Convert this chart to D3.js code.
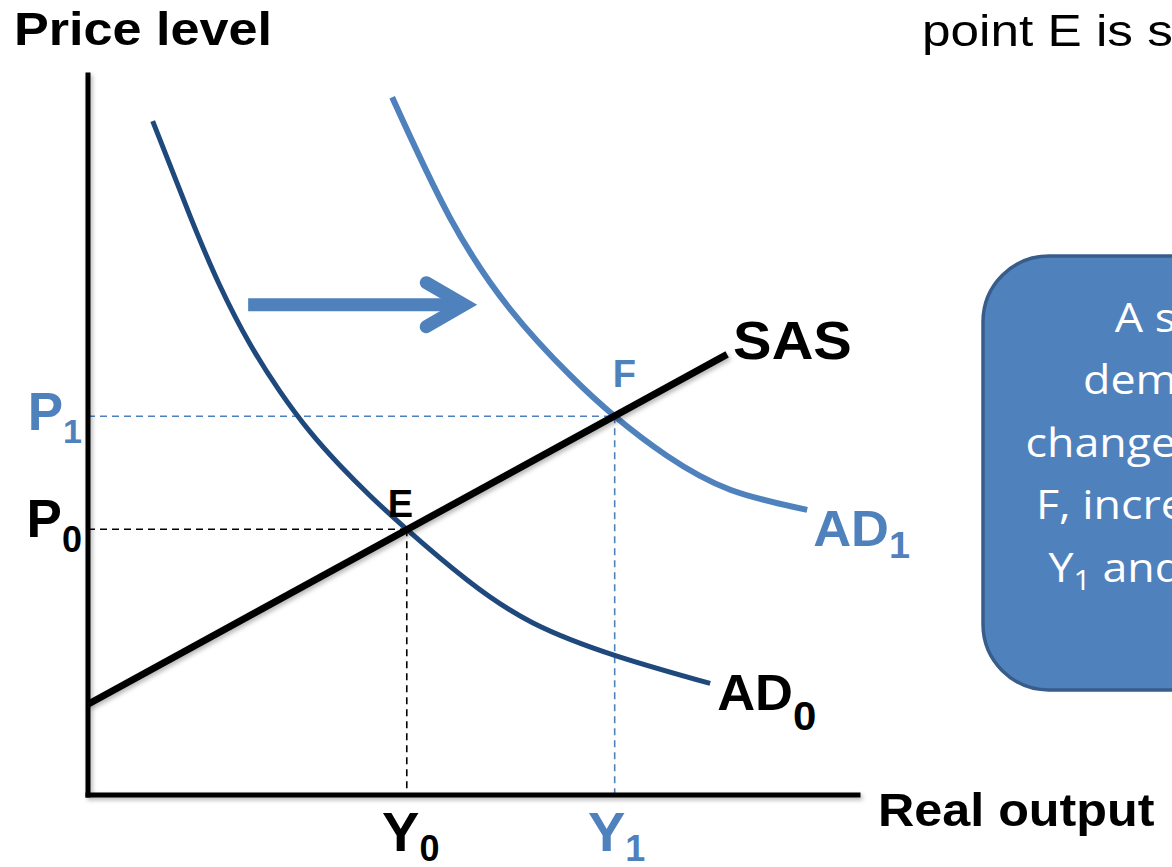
<!DOCTYPE html>
<html>
<head>
<meta charset="utf-8">
<script src="https://cdn.jsdelivr.net/npm/d3@7"></script>
<style>
  html, body { margin: 0; padding: 0; background: #fff; overflow: hidden; }
  svg { display: block; }
</style>
</head>
<body>
<svg id="chart" width="1172" height="867"></svg>
<script>
// Aggregate demand curves (real output, price level) on a 0–100 index scale
const ad0Points = [[8.4,93.6],[13.3,80.3],[17.1,70.8],[21.0,62.7],[24.9,56.1],[28.8,50.5],[32.7,45.8],[36.6,41.6],[41.4,36.9],[49.2,29.9],[57.8,23.9],[68.7,19.3],[80.8,15.5]];
const ad1Points = [[39.5,96.9],[47.0,80.2],[54.8,67.5],[62.6,58.3],[68.4,52.6],[75.2,47.1],[83.4,42.4],[93.4,39.6]];
// Short-run aggregate supply line
const sasPoints = [[0,12.6],[83,61.2]];
// Equilibria
const equilibriumE = [41.4, 36.9];
const equilibriumF = [68.4, 52.6];
// Demand-shift arrow: start and tip output, at price level
const shiftArrow = { from: 20.8, to: 49.9, at: 68.1 };
// Explanation box text (_n marks a subscript)
const noteLines = [
  "A shift in the aggregate",
  "demand curve to the right",
  "changes its equilibrium to point",
  "F, increasing the real output to",
  "Y_1 and the price level up to P_1"
];
const headerText = "point E is shifted to point F";

const COL_DARK = "#1F497D", COL_BLUE = "#4F81BD";
const BOLD = "'Liberation Sans', Arial, sans-serif";

const svg = d3.select("#chart");
const defs = svg.append("defs");
defs.append("filter").attr("id", "shadow").attr("filterUnits", "userSpaceOnUse")
  .attr("x", 0).attr("y", 0).attr("width", 1172).attr("height", 867)
  .append("feDropShadow").attr("dx", 2).attr("dy", 2.5).attr("stdDeviation", 2)
  .attr("flood-color", "#000").attr("flood-opacity", 0.28);

const x = d3.scaleLinear().domain([0, 100]).range([88, 858]);
const y = d3.scaleLinear().domain([0, 100]).range([795, 75]);
const curve = d3.line().x(d => x(d[0])).y(d => y(d[1])).curve(d3.curveNatural);

// text with optional _n subscripts
function richText(sel, str, subSize, subDy) {
  const parts = str.split(/(_\w)/).filter(s => s.length);
  let lowered = false;
  parts.forEach(p => {
    if (p[0] === "_") {
      sel.append("tspan").attr("font-size", subSize).attr("dy", subDy).text(p.slice(1));
      lowered = true;
    } else {
      const t = sel.append("tspan").text(p);
      if (lowered) { t.attr("dy", -subDy); lowered = false; }
    }
  });
  return sel;
}

// Dashed guides to the axes
const guides = svg.append("g").attr("fill", "none").attr("stroke-width", 1.6).attr("stroke-dasharray", "7,5");
[[equilibriumE, "#000"], [equilibriumF, COL_BLUE]].forEach(([pt, c]) => {
  guides.append("line").attr("x1", x(0)).attr("x2", x(pt[0])).attr("y1", y(pt[1])).attr("y2", y(pt[1])).attr("stroke", c);
  guides.append("line").attr("x1", x(pt[0])).attr("x2", x(pt[0])).attr("y1", y(pt[1])).attr("y2", y(0)).attr("stroke", c);
});

// Demand curves
svg.append("path").datum(ad0Points).attr("d", curve).attr("fill", "none").attr("stroke", COL_DARK).attr("stroke-width", 5);
svg.append("path").datum(ad1Points).attr("d", curve).attr("fill", "none").attr("stroke", COL_BLUE).attr("stroke-width", 6);

// Supply line
svg.append("path").datum(sasPoints).attr("d", d3.line().x(d => x(d[0])).y(d => y(d[1])))
  .attr("fill", "none").attr("stroke", "#000").attr("stroke-width", 7).attr("filter", "url(#shadow)");

// Axes
const axes = svg.append("g").attr("stroke", "#000").attr("stroke-width", 5).attr("stroke-linecap", "square").attr("filter", "url(#shadow)");
axes.append("line").attr("x1", x(0)).attr("x2", x(0)).attr("y1", y(0)).attr("y2", y(100));
axes.append("line").attr("x1", x(0)).attr("x2", x(100)).attr("y1", y(0)).attr("y2", y(0));

// Shift arrow
const ay = y(shiftArrow.at), tipX = x(shiftArrow.to);
const arrow = svg.append("g").attr("stroke", COL_BLUE).attr("fill", "none");
arrow.append("line").attr("x1", x(shiftArrow.from)).attr("x2", tipX - 10).attr("y1", ay).attr("y2", ay).attr("stroke-width", 13);
arrow.append("path").attr("d", `M${tipX - 46},${ay - 22}L${tipX - 8},${ay}L${tipX - 46},${ay + 22}`)
  .attr("stroke-width", 13).attr("stroke-linecap", "round").attr("stroke-linejoin", "miter");

// Labels (sx widens the glyphs horizontally)
const lab = (px, py, str, size, color, anchor, subSize, subDy, sx) =>
  richText(svg.append("text").attr("transform", `translate(${px},${py}) scale(${sx || 1},1)`)
    .attr("font-family", BOLD).attr("font-weight", "bold")
    .attr("font-size", size).attr("fill", color).attr("text-anchor", anchor || "start"), str, subSize, subDy);

lab(14, 45, "Price level", 47, "#000", "start", 0, 0, 1.11);
lab(878, 826, "Real output", 47, "#000", "start", 0, 0, 1.07);
svg.append("text").attr("transform", "translate(922,46) scale(1.14,1)")
  .attr("font-family", "'Liberation Sans', Arial, sans-serif")
  .attr("font-size", 45).attr("fill", "#000").text(headerText);

lab(x(0) - 6, y(equilibriumF[1]) + 14, "P_1", 53, COL_BLUE, "end", 34, 13);
lab(x(0) - 6, y(equilibriumE[1]) + 8, "P_0", 53, "#000", "end", 36, 15);
lab(x(equilibriumE[0]) + 4, 851, "Y_0", 56, "#000", "middle", 36, 10);
lab(x(equilibriumF[0]) + 2, 851, "Y_1", 56, COL_BLUE, "middle", 36, 10);
lab(x(equilibriumE[0]) - 19, y(equilibriumE[1]) - 12, "E", 38, "#000");
lab(x(equilibriumF[0]) - 2, y(equilibriumF[1]) - 29, "F", 38, COL_BLUE);

const sasEnd = sasPoints[sasPoints.length - 1];
lab(x(sasEnd[0]) + 6, y(sasEnd[1]) + 5, "SAS", 54, "#000", "start", 0, 0, 1.07);
const ad0End = ad0Points[ad0Points.length - 1];
lab(x(ad0End[0]) + 7, y(ad0End[1]) + 27, "AD_0", 50, "#000", "start", 40, 20, 1.05);
const ad1End = ad1Points[ad1Points.length - 1];
lab(x(ad1End[0]) + 6, y(ad1End[1]) + 36, "AD_1", 50, COL_BLUE, "start", 36, 12, 1.05);

// Explanation box
const box = { x: 983, y: 256, w: 744, h: 434 };
svg.append("rect").attr("x", box.x).attr("y", box.y).attr("width", box.w).attr("height", box.h)
  .attr("rx", 66).attr("ry", 66).attr("fill", COL_BLUE).attr("stroke", "#385D8A").attr("stroke-width", 3.5);
const note = svg.append("g").attr("transform", `translate(${box.x + box.w / 2},0) scale(1.12,1)`)
  .attr("font-family", "'Open Sans', 'Noto Sans', sans-serif").attr("font-size", 40).attr("fill", "#fff");
noteLines.forEach((ln, i) => {
  richText(note.append("text").attr("x", 0).attr("y", 332 + i * 62.5).attr("text-anchor", "middle"), ln, 27, 8);
});
</script>
</body>
</html>
